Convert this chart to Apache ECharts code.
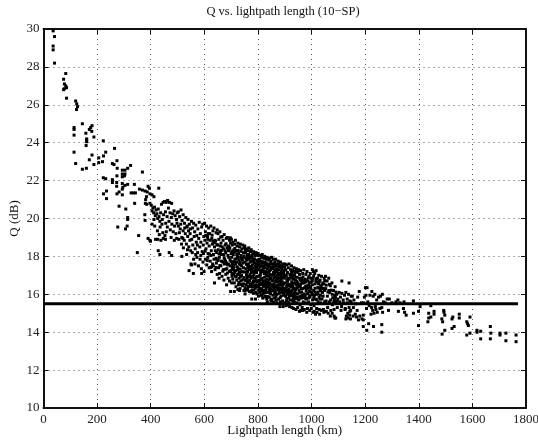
<!DOCTYPE html>
<html><head><meta charset="utf-8">
<style>html,body{margin:0;padding:0;background:#fff}#c{width:538px;height:445px}</style>
<script src="https://cdn.jsdelivr.net/npm/echarts@6/dist/echarts.min.js"></script>
</head><body><div id="c"></div>
<script>
const titleText = "Q vs. lightpath length (10\u2212SP)";
const xLabel = "Lightpath length (km)";
const yLabel = "Q (dB)";
const thresholdLine = [[0,15.5],[1770,15.5]];
const pts000 = [[36,29.9],[41,29.6],[36,29.1],[36,28.9],[41,28.2],[83,27.65],[75,27.35],[78,27.1],[83,27],[86,26.9],[75,26.8],[78,26.85],[86,26.35],[120,26.2],[124,26.05],[127,25.9],[123,25.75],[114,24.8],[114,24.7],[114,24.4],[145,25],[181,24.9],[176,24.8],[171,24.7],[180,24.6],[158,24.5],[188,24.3],[161,24.2],[161,24.15],[161,24.05],[159,23.85],[114,23.5],[120,22.9],[145,22.6],[160,22.65],[181,23.35],[171,23.1],[188,22.85]];
const pts200 = [[206,23.2],[224,23.3],[232,23.5],[223,24.1],[265,23.7],[206,22.95],[220,23],[274,23.05],[257,22.9],[263,22.85],[275,22.65],[294,22.55],[304,22.55],[314,22.65],[325,22.8],[294,22.35],[304,22.35],[302,22.25],[294,22.2],[274,22.25],[369,22.45],[223,22.15],[232,22.1],[257,22.05],[257,21.9],[273,21.9],[273,21.7],[294,21.85],[296,21.65],[304,21.75],[314,21.8],[339,21.8],[294,21.55],[235,21.45],[224,21.3],[235,21.05],[274,21.3],[282,21.4],[294,21.25],[327,21.35],[335,21.35],[343,21.35],[340,20.8],[282,20.65],[307,20.5],[314,20.05],[314,19.95],[358,21.55],[369,21.5],[379,21.45],[390,21.7],[395,21.6],[387,21.4],[397,21.3],[384,21.15],[381,21],[380,20.8],[385,20.75],[397,20.8],[378,20.2],[379,19.9],[277,19.55],[306,19.45],[312,19.6],[355,19.1],[350,18.2],[390,18.95],[397,18.85],[399,18.8]];
const pts400 = [[430,21.6],[405,21.25],[412,21.15],[402,20.7],[405,20.4],[408,20.55],[411,20.3],[414,20.6],[417,20.15],[420,20.45],[423,20.25],[426,20],[428,20.5],[431,20.1],[434,19.85],[437,20.3],[440,20.75],[443,19.95],[446,20.85],[448,20.2],[405,19.7],[415,19.6],[425,19.35],[435,19.55],[445,19.25],[418,18.9],[426,18.9],[438,18.85],[428,18.3],[434,18.1],[412,19.95],[432,19.15],[442,19.7],[447,18.95]];
const pts450 = [[453,19.1],[455,18.9],[452,20.9],[458,20.85],[463,20.95],[470,20.85],[478,20.8],[455,20.35],[461,20.1],[466,20.55],[472,20.3],[477,20.05],[482,20.25],[487,20.4],[491,20.15],[496,19.95],[499,20.3],[456,19.75],[462,19.55],[468,19.85],[473,19.4],[479,19.7],[484,19.3],[489,19.6],[494,19.2],[498,19.75],[469,18.2],[478,18.05],[476,19],[488,18.85],[497,18.95],[458,19.3]];
const pts500 = [[503,20.35],[508,20.1],[513,20.45],[517,19.9],[521,20.2],[526,19.75],[531,20.05],[535,19.55],[539,19.95],[544,19.7],[548,19.45],[503,19.6],[507,19.25],[512,19.7],[516,19],[521,19.35],[525,18.85],[529,19.2],[533,18.65],[538,19.05],[542,18.5],[546,18.85],[505,18.9],[515,18.65],[522,18.45],[516,18],[534,18.1],[550,17.6],[543,17.25],[537,18.35],[510,19.45],[527,19.5],[520,18.95],[547,19.2],[541,19.35],[536,19.6],[549,18.3]];
const pts550 = [[552,19.85],[556,19.5],[560,19.75],[564,19.3],[568,19.65],[572,19.1],[576,19.45],[581,19.8],[585,19.2],[590,19.55],[594,19.7],[598,19.05],[553,18.9],[557,18.6],[562,19.05],[566,18.4],[570,18.75],[575,18.2],[579,18.95],[583,18.5],[587,18.75],[592,18.25],[596,18.6],[555,18.2],[560,17.85],[565,17.6],[572,17.95],[578,17.5],[584,17.85],[589,17.35],[595,17.7],[559,17.1],[590,17.1],[552,17.55],[568,18.1],[574,18.6],[597,18.15],[587,18.05]];
const pts600 = [[601,19.75],[604,19.3],[608,19.6],[612,19.05],[616,19.5],[620,19.2],[624,19.6],[628,18.95],[632,19.35],[636,19.5],[640,18.85],[644,19.25],[648,19.4],[602,18.85],[606,18.4],[610,18.7],[614,18.15],[618,18.55],[622,18.85],[626,18.3],[630,18.65],[634,18.1],[638,18.5],[642,18.8],[646,18.2],[604,17.85],[609,17.55],[613,17.95],[618,17.4],[622,17.75],[627,17.2],[631,17.6],[636,17.85],[640,17.3],[645,17.65],[599,17.2],[638,16.6],[648,17.05],[625,18.05],[649,18.6],[615,19.2],[607,19.1],[633,18.8],[644,17.9],[641,18.3],[628,17.45]];
const pts650 = [[651,19.2],[654,18.9],[658,19.3],[662,18.7],[666,19.05],[670,18.85],[674,19.15],[678,18.6],[682,18.95],[686,19],[690,18.55],[694,18.85],[698,18.7],[652,18.35],[656,17.95],[660,18.25],[664,17.75],[668,18.1],[672,18.4],[676,17.85],[680,18.2],[684,17.65],[688,18.05],[692,18.3],[696,17.8],[700,18.15],[653,17.4],[657,17.1],[662,17.5],[666,16.95],[671,17.3],[675,17.6],[680,17.05],[684,17.35],[689,16.85],[693,17.2],[697,17.5],[683,16.5],[698,16.15],[655,16.85],[673,16.75],[659,18.55],[667,18.5],[677,18.3],[685,18.45],[691,17.95],[695,18.45],[699,17.25],[679,17.75],[669,17.7],[663,18.1],[687,17.55],[694,16.7]];
const pts700 = [[701,18.9],[704,18.6],[707,18.75],[710,18.35],[713,18.65],[716,18.85],[719,18.3],[722,18.55],[725,18.7],[728,18.15],[731,18.5],[734,18.65],[737,18.05],[740,18.4],[743,18.6],[746,18.2],[749,18.45],[702,17.95],[705,17.6],[708,18.1],[711,17.45],[714,17.85],[717,17.25],[720,17.7],[723,18],[726,17.35],[729,17.8],[732,17.15],[735,17.55],[738,17.9],[741,17.2],[744,17.65],[747,17.95],[703,17.1],[706,16.8],[709,17.3],[712,16.6],[715,16.95],[718,16.4],[721,16.75],[724,17.05],[727,16.5],[730,16.85],[733,16.3],[736,16.7],[739,17],[742,16.45],[745,16.8],[748,16.2],[712,16.15],[731,16.2],[749,16.2],[707,18.2],[715,18.25],[721,18.1],[727,17.95],[733,17.7],[739,17.5],[746,17.4],[704,17.4],[710,17.05],[717,17.6],[723,17.45],[729,17.1],[735,16.95],[741,16.75],[747,16.55],[702,16.6],[725,16.25]];
const pts750 = [[751,18.55],[754,18.2],[757,18.4],[760,18.05],[763,18.3],[766,18.45],[769,17.95],[772,18.25],[775,18.35],[778,17.9],[781,18.15],[784,18.25],[787,17.85],[790,18.1],[793,18.2],[796,17.8],[799,18.05],[752,17.7],[755,17.35],[758,17.8],[761,17.2],[764,17.6],[767,17.85],[770,17.05],[773,17.45],[776,17.75],[779,16.95],[782,17.4],[785,17.65],[788,16.85],[791,17.3],[794,17.6],[797,16.95],[753,16.75],[756,16.5],[759,16.95],[762,16.3],[765,16.7],[768,16.15],[771,16.55],[774,16.85],[777,16.2],[780,16.6],[783,16.05],[786,16.45],[789,16.7],[792,16.1],[795,16.4],[798,16.65],[777,15.75],[791,15.75],[757,17.05],[763,17.45],[769,17.3],[775,17.15],[781,16.9],[787,17.2],[793,16.9],[799,17.3],[755,17.9],[761,17.55],[767,16.95],[773,16.4],[779,17.55],[785,17.05],[791,16.5],[797,17.45],[752,16.35],[765,18.1],[777,18.05],[789,17.65],[760,16.85],[783,16.7],[771,17.7],[795,17.15]];
const pts800 = [[801,18.15],[804,17.85],[807,18.05],[810,17.7],[813,17.95],[816,18.1],[819,17.65],[822,17.9],[825,18],[828,17.55],[831,17.85],[834,17.95],[837,17.5],[840,17.8],[843,17.9],[846,17.45],[849,17.75],[802,17.3],[805,16.95],[808,17.45],[811,16.8],[814,17.2],[817,17.5],[820,16.7],[823,17.1],[826,17.4],[829,16.6],[832,17.05],[835,17.35],[838,16.55],[841,16.95],[844,17.25],[847,16.5],[803,16.4],[806,16.1],[809,16.6],[812,15.95],[815,16.3],[818,15.8],[821,16.2],[824,16.5],[827,15.9],[830,16.25],[833,15.75],[836,16.1],[839,16.4],[842,15.85],[845,16.15],[848,15.7],[835,15.6],[850,15.65],[804,17.6],[810,17.15],[816,16.85],[822,16.45],[828,17.2],[834,16.8],[840,16.4],[846,17.05],[807,16.75],[813,16.5],[819,17.3],[825,16.9],[831,16.55],[837,17],[843,16.6],[849,16.85],[802,15.9],[815,17.65],[827,17.7],[839,17.6],[818,16.05],[829,15.85],[844,16.35],[811,17.5],[823,16.15],[833,17.55],[847,17.3],[806,16.3],[841,16.75],[835,16.65]];
const pts850 = [[851,17.95],[854,17.6],[857,17.85],[860,17.45],[863,17.7],[866,17.85],[869,17.35],[872,17.6],[875,17.75],[878,17.3],[881,17.55],[884,17.7],[887,17.2],[890,17.5],[893,17.6],[896,17.15],[899,17.45],[852,17],[855,16.7],[858,17.15],[861,16.55],[864,16.9],[867,17.2],[870,16.45],[873,16.8],[876,17.05],[879,16.35],[882,16.7],[885,16.95],[888,16.25],[891,16.65],[894,16.9],[897,16.2],[853,16.2],[856,15.95],[859,16.35],[862,15.8],[865,16.1],[868,15.7],[871,16],[874,16.25],[877,15.75],[880,16.05],[883,15.6],[886,15.9],[889,16.1],[892,15.65],[895,15.95],[898,15.55],[856,17.35],[862,17.1],[868,16.75],[874,16.5],[880,17.1],[886,16.6],[892,16.35],[898,16.85],[854,16.5],[860,16.85],[866,16.4],[872,17.2],[878,16.85],[884,16.3],[890,17.05],[896,16.55],[858,15.6],[870,15.55],[882,15.35],[894,15.35],[865,17.55],[877,17.45],[889,17.35],[851,15.75],[875,16.65],[899,16.3],[863,16.25],[887,16.75]];
const pts900 = [[901,17.6],[904,17.3],[907,17.55],[910,17.15],[913,17.4],[916,17.6],[919,17.05],[922,17.3],[925,17.5],[928,17],[931,17.25],[934,17.4],[937,16.95],[940,17.2],[943,17.35],[946,16.9],[949,17.15],[902,16.6],[905,16.3],[908,16.75],[911,16.15],[914,16.5],[917,16.8],[920,16.05],[923,16.4],[926,16.65],[929,15.95],[932,16.3],[935,16.6],[938,15.9],[941,16.25],[944,16.5],[947,15.85],[903,15.9],[906,15.65],[909,16],[912,15.45],[915,15.8],[918,15.35],[921,15.7],[924,15.95],[927,15.3],[930,15.65],[933,15.25],[936,15.6],[939,15.85],[942,15.2],[945,15.55],[948,15.3],[906,17],[912,16.85],[918,16.45],[924,16.15],[930,16.8],[936,16.3],[942,16.05],[948,16.6],[904,16.15],[910,16.5],[916,16.1],[922,16.9],[928,16.55],[934,16.05],[940,16.75],[946,16.35],[925,17.15],[937,17.1],[913,15.6],[949,15.75],[905,15.4],[931,15.85]];
const pts950 = [[951,17.3],[955,17.05],[959,17.25],[963,16.85],[967,17.1],[971,17.3],[975,16.8],[979,17.05],[983,17.2],[987,16.7],[991,16.95],[995,17.1],[999,16.65],[952,16.4],[956,16.1],[960,16.55],[964,15.95],[968,16.3],[972,16.6],[976,15.9],[980,16.2],[984,16.45],[988,15.8],[992,16.15],[996,16.4],[953,15.7],[957,15.45],[961,15.8],[965,15.3],[969,15.6],[973,15.2],[977,15.55],[981,15.75],[985,15.25],[989,15.6],[993,15.15],[997,15.45],[955,15.1],[968,15.15],[982,15.05],[999,15.25],[958,16.75],[966,16.6],[974,16.35],[982,16.75],[990,16.5],[998,16.85],[954,16.85],[962,16.3],[970,15.95],[978,16.65],[986,16.05],[994,15.85],[960,15.15]];
const pts1000 = [[1003,17.3],[1007,17.2],[1012,17.1],[1017,17.25],[1022,16.85],[1027,17],[1032,16.75],[1037,16.95],[1042,16.6],[1047,16.85],[1003,16.5],[1008,16.2],[1013,16.55],[1018,16],[1023,16.35],[1028,15.85],[1033,16.2],[1038,16.5],[1043,15.9],[1048,16.2],[1004,15.7],[1009,15.4],[1014,15.75],[1019,15.25],[1024,15.6],[1029,15.2],[1034,15.55],[1039,15.75],[1044,15.2],[1049,15.6],[1005,15.05],[1010,15.1],[1015,14.95],[1030,14.95],[1020,15.05],[1036,15.15],[1046,15.05],[1006,16.85],[1016,16.7],[1026,16.55],[1036,16.3],[1046,16.55],[1011,15.95],[1021,16.65],[1031,15.75],[1041,16.1],[1001,16.05]];
const pts1050 = [[1052,16.95],[1058,16.7],[1064,16.85],[1070,16.45],[1076,16.6],[1082,16.2],[1088,16.4],[1094,16],[1053,16.3],[1059,15.9],[1065,16.2],[1071,15.7],[1077,16],[1083,15.6],[1089,15.85],[1095,15.65],[1054,15.65],[1060,15.3],[1066,15.6],[1072,15.15],[1078,15.45],[1084,15.2],[1090,15.6],[1096,15.3],[1055,15.1],[1062,15],[1070,14.85],[1077,15],[1084,14.85],[1087,14.75],[1090,14.75],[1098,15.75],[1068,16.1],[1086,15.95]];
const pts1100 = [[1113,16.7],[1140,16.6],[1103,16.1],[1108,15.85],[1113,16.05],[1118,15.7],[1123,15.95],[1128,16.1],[1133,15.75],[1138,16],[1143,15.65],[1148,15.9],[1105,15.6],[1112,15.35],[1119,15.55],[1126,15.25],[1133,15.55],[1140,15.3],[1147,15.6],[1110,15.15],[1125,15.2],[1146,15.15],[1135,15],[1143,15.1],[1130,14.85],[1137,14.75],[1128,14.7],[1145,14.7],[1142,14.9],[1163,14.95],[1152,15.9],[1158,15.7],[1165,15.5],[1172,15.85],[1178,16.15],[1186,15.55],[1156,15.3],[1170,15.15],[1168,14.8],[1180,14.85],[1188,14.7],[1175,14.65],[1155,14.85]];
const pts1200 = [[1201,16.35],[1207,16.35],[1193,14.9],[1193,14.65],[1193,14.3],[1213,14.45],[1206,14.1],[1231,14.3],[1262,14.4],[1262,14],[1265,15.05],[1287,15.15],[1197,15.85],[1203,15.95],[1210,15.6],[1215,15.4],[1218,15.95],[1225,16.15],[1230,15.9],[1236,16],[1243,15.7],[1250,15.85],[1257,15.9],[1264,16],[1268,15.6],[1224,15.3],[1228,15.15],[1233,15],[1240,15.2],[1245,15.05],[1255,15.25],[1262,15.3],[1222,14.95],[1238,15.35],[1282,15.75],[1290,15.75],[1300,15.55],[1315,15.6],[1322,15.7],[1330,15.55],[1205,15.25],[1195,15.55],[1275,15.55]];
const pts1300 = [[1343,15.25],[1347,15.05],[1353,14.9],[1324,15.1],[1345,15.6],[1380,15.65],[1405,15.35],[1399,15.1],[1399,14.35],[1380,15],[1437,15],[1437,14.75],[1434,14.55],[1445,14.8],[1457,15.1],[1457,14.95],[1445,15.4],[1493,15.15],[1494,15.05],[1497,14.9],[1486,14.7],[1489,14.55],[1497,14.1],[1487,13.9]];
const pts1500 = [[1551,14.95],[1551,14.75],[1527,14.8],[1524,14.7],[1532,14.3],[1524,14.2],[1591,14.8],[1579,14.55],[1582,14.45],[1585,14.35],[1591,13.95],[1579,13.85],[1617,14.1],[1617,14],[1631,14.05],[1631,13.65],[1667,14.3],[1669,13.95],[1667,13.65],[1703,13.95],[1703,13.85],[1725,13.95],[1725,13.55],[1763,13.85],[1763,13.5]];
const ptsCoreA = [[613,18.9],[629,19.12],[647,18.62],[655,18.13],[661,19.02],[673,18.08],[681,18.67],[689,18.32],[697,18.98],[703,18.28],[709,17.72],[714,18.42],[719,17.88],[726,18.31],[731,17.62],[736,18.27],[742,17.81],[748,18.02],[753,18.33],[757,17.58],[762,17.92],[768,17.48],[773,17.98],[778,17.33],[783,17.78],[788,18.02],[794,17.41],[799,17.72],[803,17.52],[808,17.78],[812,17.28],[817,17.72],[821,17.42],[826,17.11],[831,17.62],[836,17.18],[842,17.46],[847,17.62],[852,17.42],[858,17.58],[862,17.28],[867,17.52],[873,17.02],[878,17.58],[883,17.12],[888,17.42],[893,17.18],[898,17.28]];
const ptsCoreB = [[703,16.95],[708,17.52],[713,17.16],[719,16.92],[724,17.28],[729,16.62],[734,17.32],[738,16.52],[744,17.18],[748,16.88],[752,17.18],[756,16.72],[761,16.62],[766,17.32],[771,16.92],[776,16.52],[781,17.22],[786,16.68],[790,17.48],[795,16.72],[800,16.48],[804,16.72],[809,17.02],[813,16.78],[818,16.58],[822,17.22],[827,16.72],[831,16.98],[836,16.42],[841,17.18],[845,16.82],[849,16.28],[853,16.72],[857,16.48],[861,17.02],[866,16.68],[870,16.92],[875,16.28],[879,17.02],[884,16.52],[888,16.88],[893,16.52],[897,17.02],[902,16.92],[907,16.42],[911,16.68],[916,16.28],[921,16.52],[926,16.92],[931,16.42],[935,16.82],[941,16.58],[945,16.68],[950,16.52]];
const ptsCoreC = [[752,16.02],[758,16.22],[764,16.42],[769,16.72],[774,16.12],[779,16.38],[785,16.22],[790,16.32],[796,16.02],[801,16.22],[806,16.52],[811,16.18],[816,15.92],[821,16.42],[826,16.08],[831,16.38],[836,15.88],[842,16.22],[847,16.02],[852,16.42],[857,16.18],[862,16.02],[867,15.88],[873,16.38],[878,16.18],[883,15.82],[888,16.48],[893,16.12],[898,16.05],[903,16.32],[908,15.78],[913,16.22],[918,15.92],[923,16.02],[928,16.22],[933,15.72],[938,16.12],[943,15.78],[948,16.02],[953,16.22],[958,15.88],[963,16.12],[968,15.82],[973,16.02],[978,15.78],[983,16.02],[988,16.32],[993,15.92],[998,16.12],[1003,15.98],[1008,15.82],[1013,16.12],[1018,15.72],[1023,16.02],[1028,16.32],[1033,15.95]];
const ptsCoreD = [[603,18.28],[611,17.78],[619,18.12],[623,17.42],[633,17.52],[637,18.72],[643,17.42],[647,17.82],[652,17.78],[658,17.52],[664,18.32],[669,17.22],[674,17.92],[678,17.32],[682,17.62],[686,17.12],[691,17.58],[696,17.22],[700,17.72],[958,16.42],[963,16.72],[968,16.92],[973,16.72],[978,16.42],[983,16.32],[988,16.88],[993,16.62],[998,16.28],[1003,16.72],[1008,16.98],[1013,16.32],[1018,16.82],[1024,16.12],[1029,16.68],[1034,16.42],[1039,16.12],[1044,16.32],[1049,16.72],[1055,16.48],[1061,16.12],[1067,16.52],[1073,16.22],[1079,15.82],[1085,15.72],[1091,16.12]];
const scatterPoints = [].concat(pts000,pts200,pts400,pts450,pts500,pts550,pts600,pts650,pts700,pts750,pts800,pts850,pts900,pts950,pts1000,pts1050,pts1100,pts1200,pts1300,pts1500,ptsCoreA,ptsCoreB,ptsCoreC,ptsCoreD);

const serif = '"Liberation Serif","Times New Roman",serif';
const chart = echarts.init(document.getElementById('c'),null,{renderer:'canvas'});
const grid = {left:43.5,right:12,top:29,bottom:37,outerBoundsMode:'none'};
const dotted = {show:true,lineStyle:{color:'#555',type:[1,4],width:1}};
const ticks = {show:true,inside:true,length:5,lineStyle:{color:'#111',width:1}};
const line = {show:true,onZero:false,lineStyle:{color:'#111',width:2}};
chart.setOption({
  animation:false,
  backgroundColor:'#fff',
  title:{text:titleText,left:278,top:0,textAlign:'center',textStyle:{fontFamily:serif,fontSize:12.5,fontWeight:'normal',color:'#111'}},
  grid:grid,
  xAxis:[
    {type:'value',min:0,max:1800,interval:200,position:'bottom',axisLine:line,axisTick:ticks,splitLine:dotted,
     axisLabel:{fontFamily:serif,fontSize:13,color:'#222',margin:5,formatter:v=>String(v),showMinLabel:true,showMaxLabel:true,hideOverlap:false},
     name:xLabel,nameLocation:'middle',nameGap:16,nameMoveOverlap:false,nameTextStyle:{fontFamily:serif,fontSize:13,color:'#111'}},
    {type:'value',min:0,max:1800,interval:200,position:'top',axisLine:line,axisTick:ticks,splitLine:{show:false},axisLabel:{show:false}}
  ],
  yAxis:[
    {type:'value',min:10,max:30,interval:2,position:'left',axisLine:line,axisTick:ticks,splitLine:dotted,
     axisLabel:{fontFamily:serif,fontSize:13,color:'#222',margin:4,showMinLabel:true,showMaxLabel:true},
     name:yLabel,nameLocation:'middle',nameGap:22,nameMoveOverlap:false,nameTextStyle:{fontFamily:serif,fontSize:13,color:'#111'}},
    {type:'value',min:10,max:30,interval:2,position:'right',axisLine:line,axisTick:ticks,splitLine:{show:false},axisLabel:{show:false}}
  ],
  series:[
    {type:'scatter',data:scatterPoints,symbol:'rect',symbolSize:3,itemStyle:{color:'#000',opacity:1},silent:true},
    {type:'line',data:thresholdLine,symbol:'none',lineStyle:{color:'#000',width:3},silent:true,z:3}
  ]
});
</script></body></html>
